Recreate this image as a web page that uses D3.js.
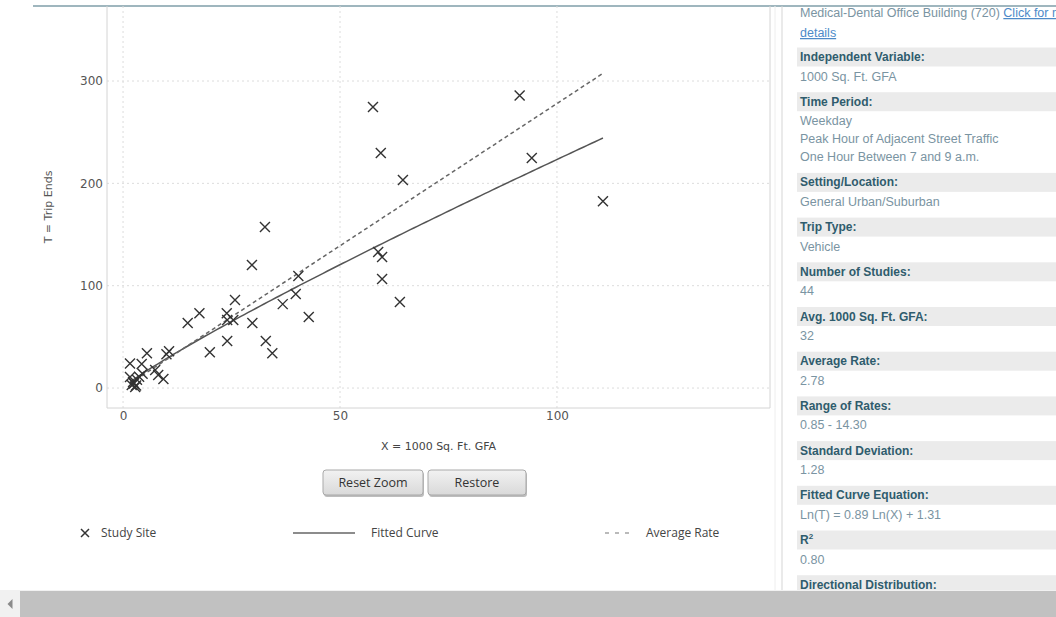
<!DOCTYPE html>
<html>
<head>
<meta charset="utf-8">
<script src="https://cdn.jsdelivr.net/npm/d3@7"></script>
<style>
  body { margin: 0; background: #fff; overflow: hidden; }
  svg { display: block; }
</style>
</head>
<body>
<div id="chart"></div>
<script>
// --------------------------------------
//  Data
// --------------------------------------

const studyX = [57.6, 91.4, 59.4, 94.2, 64.5, 110.6, 32.7, 29.7, 58.8, 59.7, 59.7, 40.4,
  63.8, 25.8, 17.6, 14.9, 23.9, 24.0, 25.4, 29.8, 36.8, 39.8, 42.8, 24.0,
  32.9, 20.0, 34.4, 5.5, 10.0, 10.6, 1.6, 4.3, 7.4, 8.1, 9.3, 1.6,
  2.3, 3.2, 2.0, 2.8, 3.7, 2.5, 3.0, 4.5];
const studyT = [274.7, 285.8, 229.7, 224.8, 203.3, 182.5, 157.4, 120.2, 133.0, 128.0, 106.5, 109.5,
  84.0, 86.0, 73.0, 63.6, 73.0, 66.5, 66.5, 63.5, 82.0, 92.0, 69.5, 46.0,
  46.0, 35.0, 34.0, 34.0, 33.0, 36.0, 24.0, 23.5, 17.6, 12.7, 8.8, 10.8,
  6.0, 8.0, 3.0, 1.0, 11.0, 4.5, 2.5, 14.0];

// Ln(T) = fitSlope * Ln(X) + fitIntercept
const fitSlope = 0.89;
const fitIntercept = 1.31;
const averageRate = 2.78;

const xTicks = [0, 50, 100];
const yTicks = [0, 100, 200, 300];

const legendLabels = ["Study Site", "Fitted Curve", "Average Rate"];
const buttonLabels = ["Reset Zoom", "Restore"];

const panelIntro = ["Medical-Dental Office Building (720) ", "Click for m", "details"];
const panelHeaders = ["Independent Variable:", "Time Period:", "Setting/Location:", "Trip Type:",
  "Number of Studies:", "Avg. 1000 Sq. Ft. GFA:", "Average Rate:", "Range of Rates:",
  "Standard Deviation:", "Fitted Curve Equation:", "R", "Directional Distribution:"];
const panelValues = [["1000 Sq. Ft. GFA"],
  ["Weekday", "Peak Hour of Adjacent Street Traffic", "One Hour Between 7 and 9 a.m."],
  ["General Urban/Suburban"], ["Vehicle"], ["44"], ["32"], ["2.78"], ["0.85 - 14.30"],
  ["1.28"], ["Ln(T) = 0.89 Ln(X) + 1.31"], ["0.80"], []];

// --------------------------------------
//  Canvas
// --------------------------------------

const width = 1056;
const height = 617;
const plot = {left: 107, right: 770, top: 6, bottom: 408};

const svg = d3.select("#chart")
  .append("svg")
    .attr("width", width)
    .attr("height", height);

// --------------------------------------
//  Scales
// --------------------------------------

const x = d3.scaleLinear()
    .domain([-3.7, 149.1])
    .range([plot.left, plot.right]);

const y = d3.scaleLinear()
    .domain([-19.5, 373.3])
    .range([plot.bottom, plot.top]);

// top rule of the page
svg.append("line")
    .attr("x1", 33).attr("x2", width)
    .attr("y1", 6).attr("y2", 6)
    .attr("stroke", "#7f9ea8")
    .attr("stroke-width", 1.5);

// --------------------------------------
//  Grid + frame
// --------------------------------------

const grid = svg.append("g")
    .attr("stroke", "#dcdcdc")
    .attr("stroke-dasharray", "2,3");

grid.selectAll(".hgrid")
  .data(yTicks)
  .join("line")
    .attr("x1", plot.left).attr("x2", plot.right)
    .attr("y1", d => y(d)).attr("y2", d => y(d));

grid.selectAll(".vgrid")
  .data(xTicks)
  .join("line")
    .attr("x1", d => x(d)).attr("x2", d => x(d))
    .attr("y1", plot.top).attr("y2", plot.bottom);

const frame = svg.append("g").attr("stroke", "#d4d4d4");
frame.append("line").attr("x1", plot.left).attr("x2", plot.left).attr("y1", plot.top).attr("y2", plot.bottom);
frame.append("line").attr("x1", plot.left).attr("x2", plot.right).attr("y1", plot.bottom).attr("y2", plot.bottom);
frame.append("line").attr("x1", plot.right).attr("x2", plot.right).attr("y1", plot.top).attr("y2", plot.bottom);

// --------------------------------------
//  Axes
// --------------------------------------

svg.append("g")
    .attr("class", "x-axis")
    .attr("transform", `translate(0, ${plot.bottom})`)
    .call(d3.axisBottom(x)
        .tickValues(xTicks)
        .tickSize(0)
        .tickPadding(3))
    .call(g => g.select(".domain").remove())
    .selectAll("text")
      .attr("font-family", "DejaVu Sans")
      .attr("font-size", 12)
      .attr("fill", "#555");

svg.append("g")
    .attr("class", "y-axis")
    .attr("transform", `translate(${plot.left}, 0)`)
    .call(d3.axisLeft(y)
        .tickValues(yTicks)
        .tickSize(0)
        .tickPadding(4))
    .call(g => g.select(".domain").remove())
    .selectAll("text")
      .attr("font-family", "DejaVu Sans")
      .attr("font-size", 12)
      .attr("fill", "#555");

svg.append("text")
    .attr("x", (plot.left + plot.right) / 2)
    .attr("y", 450)
    .attr("text-anchor", "middle")
    .attr("font-family", "DejaVu Sans")
    .attr("font-size", 11)
    .attr("fill", "#444")
    .text("X = 1000 Sq. Ft. GFA");

svg.append("text")
    .attr("transform", `translate(52, ${(plot.top + plot.bottom) / 2}) rotate(-90)`)
    .attr("text-anchor", "middle")
    .attr("font-family", "DejaVu Sans")
    .attr("font-size", 11)
    .attr("fill", "#555")
    .text("T = Trip Ends");

// --------------------------------------
//  Lines
// --------------------------------------

const xMin = d3.min(studyX);
const xMax = d3.max(studyX);

const line = d3.line()
    .x(d => x(d[0]))
    .y(d => y(d[1]));

const fitPts = d3.range(0, 121).map(i => {
  const xv = xMin + (xMax - xMin) * i / 120;
  return [xv, Math.exp(fitSlope * Math.log(xv) + fitIntercept)];
});

svg.append("path")
    .datum(fitPts)
    .attr("d", line)
    .attr("fill", "none")
    .attr("stroke", "#555")
    .attr("stroke-width", 1.5);

svg.append("path")
    .datum([[xMin, averageRate * xMin], [xMax, averageRate * xMax]])
    .attr("d", line)
    .attr("fill", "none")
    .attr("stroke", "#666")
    .attr("stroke-width", 1.5)
    .attr("stroke-dasharray", "4,3");

// --------------------------------------
//  Study sites
// --------------------------------------

const cross = r => `M${-r},${-r}L${r},${r}M${-r},${r}L${r},${-r}`;

svg.append("g")
  .selectAll("path")
  .data(studyX.map((d, i) => [d, studyT[i]]))
  .join("path")
    .attr("transform", d => `translate(${x(d[0])}, ${y(d[1])})`)
    .attr("d", cross(5))
    .attr("stroke", "#333")
    .attr("stroke-width", 1.4)
    .attr("fill", "none");

// --------------------------------------
//  Buttons
// --------------------------------------

const defs = svg.append("defs");
const grad = defs.append("linearGradient")
    .attr("id", "btn")
    .attr("x1", 0).attr("x2", 0).attr("y1", 0).attr("y2", 1);
grad.append("stop").attr("offset", "0%").attr("stop-color", "#f2f2f2");
grad.append("stop").attr("offset", "100%").attr("stop-color", "#d9d9d9");

const buttonX = [323, 428];
const buttonW = [100, 98];

const btn = svg.append("g")
  .selectAll("g")
  .data(buttonLabels)
  .join("g")
    .attr("transform", (d, i) => `translate(${buttonX[i]}, 470)`);

btn.append("rect")
    .attr("x", 1).attr("y", 2)
    .attr("width", (d, i) => buttonW[i])
    .attr("height", 25)
    .attr("rx", 3)
    .attr("fill", "#bdbdbd");

btn.append("rect")
    .attr("width", (d, i) => buttonW[i])
    .attr("height", 25)
    .attr("rx", 3)
    .attr("fill", "url(#btn)")
    .attr("stroke", "#a9a9a9");

btn.append("text")
    .attr("x", (d, i) => buttonW[i] / 2)
    .attr("y", 17)
    .attr("text-anchor", "middle")
    .attr("font-family", "Open Sans")
    .attr("font-size", 12.5)
    .attr("fill", "#333")
    .text(d => d);

// --------------------------------------
//  Legend
// --------------------------------------

const legendY = 533;
const legend = svg.append("g")
    .attr("font-family", "Open Sans")
    .attr("font-size", 12)
    .attr("fill", "#444");

legend.append("path")
    .attr("transform", `translate(85, ${legendY})`)
    .attr("d", cross(4))
    .attr("stroke", "#333")
    .attr("stroke-width", 1.5);

legend.append("line")
    .attr("x1", 293).attr("x2", 355)
    .attr("y1", legendY).attr("y2", legendY)
    .attr("stroke", "#666")
    .attr("stroke-width", 1.5);

legend.append("line")
    .attr("x1", 605).attr("x2", 633)
    .attr("y1", legendY).attr("y2", legendY)
    .attr("stroke", "#777")
    .attr("stroke-width", 1.2)
    .attr("stroke-dasharray", "4,6");

const legendTextX = [101, 371, 646];
legend.selectAll("text")
  .data(legendLabels)
  .join("text")
    .attr("x", (d, i) => legendTextX[i])
    .attr("y", legendY + 4)
    .text(d => d);

// --------------------------------------
//  Side panel
// --------------------------------------

svg.append("line")
    .attr("x1", 775).attr("x2", 775).attr("y1", 6).attr("y2", 590)
    .attr("stroke", "#eeeeee");
svg.append("line")
    .attr("x1", 782).attr("x2", 782).attr("y1", 6).attr("y2", 590)
    .attr("stroke", "#d5d5d5");

const panel = svg.append("g")
    .attr("font-family", "Liberation Sans")
    .attr("font-size", 12.5);

const panelX = 800;
const valueColor = "#7a94a2";
const headerColor = "#2f5c6d";
const linkColor = "#4d8ac8";

const intro = panel.append("text")
    .attr("x", panelX).attr("y", 17)
    .attr("fill", valueColor);
intro.append("tspan").text(panelIntro[0]);
intro.append("tspan")
    .attr("fill", linkColor)
    .attr("text-decoration", "underline")
    .text(panelIntro[1]);
panel.append("text")
    .attr("x", panelX).attr("y", 37)
    .attr("fill", linkColor)
    .attr("text-decoration", "underline")
    .text(panelIntro[2]);

let cy = 57;
panelHeaders.forEach((h, i) => {
  panel.append("rect")
      .attr("x", 797).attr("y", cy - 9.5)
      .attr("width", width - 797).attr("height", 19)
      .attr("fill", "#ebebeb");
  const t = panel.append("text")
      .attr("x", panelX).attr("y", cy + 4)
      .attr("fill", headerColor)
      .attr("font-weight", "bold")
      .attr("font-size", 12)
      .text(h);
  if (h === "R") {
    t.append("tspan")
        .attr("font-size", 8)
        .attr("dy", -5)
        .text("2");
  }
  cy += 19.5;
  panelValues[i].forEach((v, j) => {
    if (j > 0) cy += 18;
    panel.append("text")
        .attr("x", panelX).attr("y", cy + 4)
        .attr("fill", valueColor)
        .text(v);
  });
  cy += 25.2;
});

// --------------------------------------
//  Scrollbar
// --------------------------------------

svg.append("rect")
    .attr("x", 0).attr("y", 590)
    .attr("width", width).attr("height", height - 590)
    .attr("fill", "#f1f1f1");
svg.append("rect")
    .attr("x", 20).attr("y", 591)
    .attr("width", width - 20).attr("height", height - 591)
    .attr("fill", "#c1c1c1");
svg.append("path")
    .attr("transform", "translate(10, 604)")
    .attr("d", "M-2.5,0L2.5,-5L2.5,5Z")
    .attr("fill", "#8a8a8a");
</script>
</body>
</html>
